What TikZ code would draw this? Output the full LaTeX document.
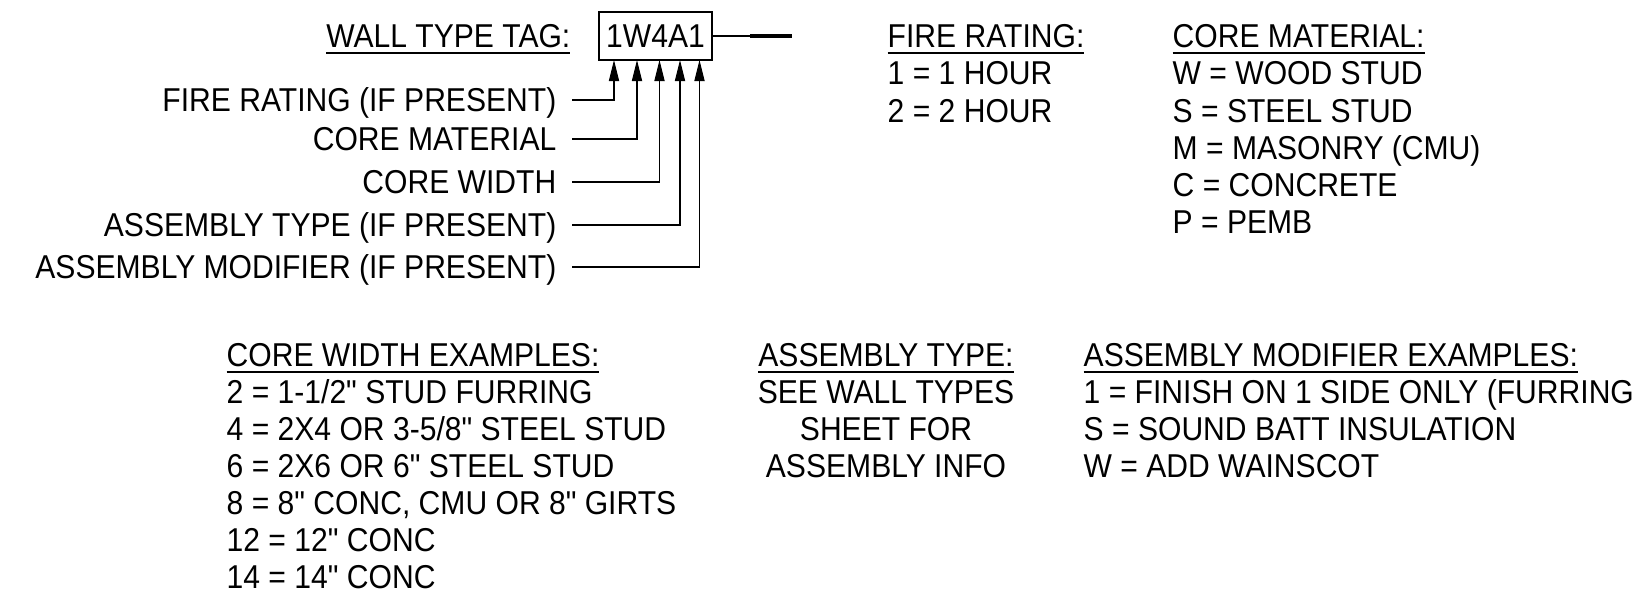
\documentclass[tikz,border=0pt]{standalone}
\usepackage{fontspec}
\setmainfont[FakeStretch=0.91, Ligatures=TeXOff]{Liberation Sans}
\usetikzlibrary{arrows.meta, positioning}

\begin{document}
\begin{tikzpicture}[
    x=0.01cm, y=-0.01cm,
    txt/.style={inner sep=0pt, text height=6.7pt, text depth=0pt,
                font=\fontsize{9.4pt}{11pt}\selectfont},
    lead/.style={line width=0.3pt},
    arr/.style={lead, -{Triangle[length=6pt, width=2.9pt]}},
]
    \useasboundingbox (0,0) rectangle (1633,592);

    % tag and its legend
    \node[txt, anchor=east] (tagttl) at (571,36) {\underline{WALL TYPE TAG:}};
    \node[txt, draw, line width=0.4pt, minimum width=1.13cm, minimum height=0.48cm] (tag) at (655.5,36) {1W4A1};
    \coordinate (tl) at (750,36);
    \coordinate (te) at (792,36);
    \draw[lead] (tag.east) -- (tl);
    \draw[line width=1pt] (tl) -- (te);

    \node[txt, anchor=east] (lfr)  at (557,100) {FIRE RATING (IF PRESENT)};
    \node[txt, anchor=east] (lcm)  at (557,139) {CORE MATERIAL};
    \node[txt, anchor=east] (lcw)  at (557,182) {CORE WIDTH};
    \node[txt, anchor=east] (lat)  at (557,225) {ASSEMBLY TYPE (IF PRESENT)};
    \node[txt, anchor=east] (lam)  at (557,267) {ASSEMBLY MODIFIER (IF PRESENT)};

    \coordinate (a1) at (614,60);
    \coordinate (a2) at (637,60);
    \coordinate (a3) at (659.5,60);
    \coordinate (a4) at (680,60);
    \coordinate (a5) at (699.5,60);

    \draw[arr] ([xshift=4.3pt]lfr.east) -| (a1);
    \draw[arr] ([xshift=4.3pt]lcm.east) -| (a2);
    \draw[arr] ([xshift=4.3pt]lcw.east) -| (a3);
    \draw[arr] ([xshift=4.3pt]lat.east) -| (a4);
    \draw[arr] ([xshift=4.3pt]lam.east) -| (a5);

    % fire rating
    \node[txt, anchor=west] (frttl) at (887,36) {\underline{FIRE RATING:}};
    \foreach \t [count=\i] in {1 = 1 HOUR, 2 = 2 HOUR}
        \node[txt, anchor=west] (fr\i) at (887,36+37.2*\i) {\t};

    % core material
    \node[txt, anchor=west] (cmttl) at (1172,36) {\underline{CORE MATERIAL:}};
    \foreach \t [count=\i] in {W = WOOD STUD, S = STEEL STUD, M = MASONRY (CMU),
                               C = CONCRETE, P = PEMB}
        \node[txt, anchor=west] (cm\i) at (1172,36+37.2*\i) {\t};

    % core width
    \node[txt, anchor=west] (cwttl) at (226,355) {\underline{CORE WIDTH EXAMPLES:}};
    \foreach \t [count=\i] in {2 = 1-1/2" STUD FURRING, 4 = 2X4 OR 3-5/8" STEEL STUD,
                               6 = 2X6 OR 6" STEEL STUD, {8 = 8" CONC, CMU OR 8" GIRTS},
                               12 = 12" CONC, 14 = 14" CONC}
        \node[txt, anchor=west] (cw\i) at (226,355+37*\i) {\t};

    % assembly type
    \node[txt] (atttl) at (886,355) {\underline{ASSEMBLY TYPE:}};
    \foreach \t [count=\i] in {SEE WALL TYPES, SHEET FOR, ASSEMBLY INFO}
        \node[txt] (at\i) at (886,355+37*\i) {\t};

    % assembly modifier
    \node[txt, anchor=west] (amttl) at (1083,355) {\underline{ASSEMBLY MODIFIER EXAMPLES:}};
    \foreach \t [count=\i] in {1 = FINISH ON 1 SIDE ONLY (FURRING, S = SOUND BATT INSULATION,
                               W = ADD WAINSCOT}
        \node[txt, anchor=west] (am\i) at (1083,355+37*\i) {\t};
\end{tikzpicture}
\end{document}
